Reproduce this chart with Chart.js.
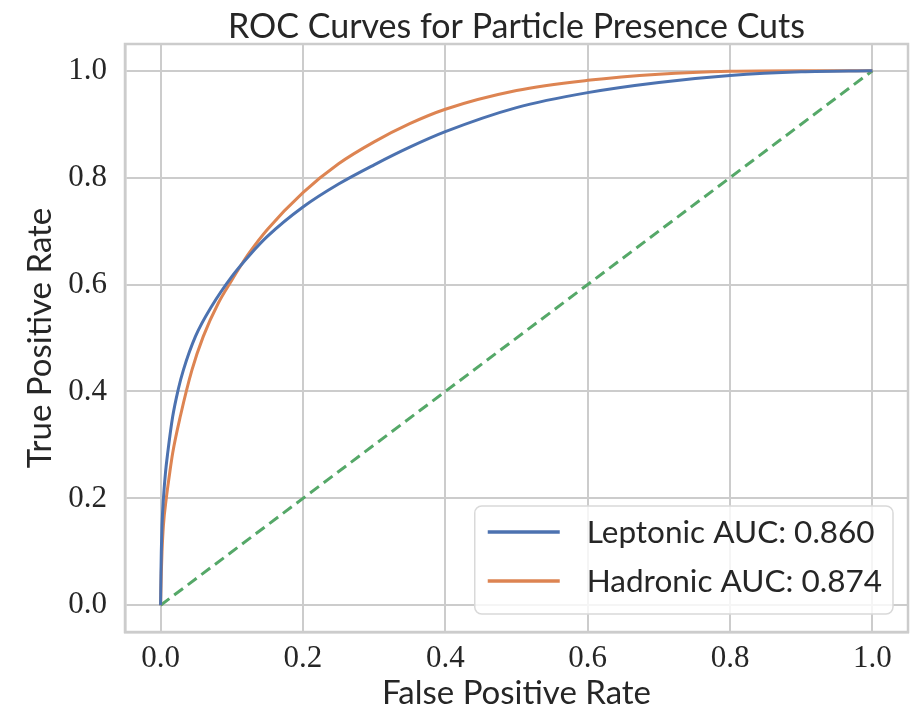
<!DOCTYPE html>
<html><head><meta charset="utf-8">
<script src="https://cdn.jsdelivr.net/npm/chart.js@4.4.1/dist/chart.umd.min.js"></script>
<style>html,body{margin:0;padding:0;background:#fff}#wrap{width:918px;height:715px;position:relative}</style>
</head><body><div id="wrap"><canvas id="c" width="918" height="715"></canvas></div>
<script>
const leptonicFPR = [0, 0.0005, 0.001, 0.002, 0.004, 0.007, 0.010, 0.017, 0.025, 0.032, 0.049, 0.072, 0.100, 0.125, 0.150, 0.200, 0.250, 0.300, 0.350, 0.400, 0.500, 0.600, 0.700, 0.800, 0.900, 1.000];
const leptonicTPR = [0, 0.06, 0.10, 0.15, 0.20, 0.25, 0.285, 0.353, 0.405, 0.44, 0.503, 0.560, 0.615, 0.655, 0.690, 0.745, 0.788, 0.824, 0.857, 0.886, 0.931, 0.959, 0.978, 0.991, 0.998, 1.000];
const hadronicFPR = [0, 0.001, 0.002, 0.004, 0.008, 0.012, 0.017, 0.028, 0.044, 0.060, 0.081, 0.100, 0.113, 0.125, 0.150, 0.200, 0.250, 0.300, 0.350, 0.400, 0.500, 0.600, 0.700, 0.800, 0.900, 1.000];
const hadronicTPR = [0, 0.06, 0.10, 0.15, 0.20, 0.24, 0.285, 0.355, 0.44, 0.503, 0.565, 0.608, 0.636, 0.660, 0.703, 0.772, 0.826, 0.867, 0.901, 0.928, 0.963, 0.982, 0.9935, 0.999, 1.000, 1.000];
const chanceFPR = [0, 1];
const chanceTPR = [0, 1];
const tickValues = [0, 0.2, 0.4, 0.6, 0.8, 1.0];
const seriesLabels = ['Leptonic AUC: 0.860', 'Hadronic AUC: 0.874'];
const titleText = 'ROC Curves for Particle Presence Cuts';
const xTitle = 'False Positive Rate';
const yTitle = 'True Positive Rate';

const SANS = 'Lato, "Open Sans", sans-serif';
const SERIF = '"Liberation Serif", "DejaVu Serif", serif';
const GRID = '#cccccc';
const TEXT = '#262626';

function pts(xs, ys) { return xs.map((x, i) => ({x: x, y: ys[i]})); }

const framePlugin = {
  id: 'frame',
  beforeDatasetsDraw(chart) {
    const {ctx, chartArea: a} = chart;
    ctx.save();
    ctx.strokeStyle = GRID;
    ctx.lineWidth = 2.5;
    ctx.strokeRect(a.left, a.top, a.right - a.left, a.bottom - a.top);
    ctx.restore();
  }
};

const titlePlugin = {
  id: 'areaTitle',
  afterDraw(chart) {
    const {ctx, chartArea: a} = chart;
    ctx.save();
    ctx.font = '34px ' + SANS;
    ctx.fillStyle = TEXT;
    ctx.textAlign = 'center';
    ctx.textBaseline = 'middle';
    ctx.fillText(titleText, (a.left + a.right) / 2, 27);
    ctx.restore();
  }
};

const legendPlugin = {
  id: 'boxLegend',
  afterDatasetsDraw(chart) {
    const {ctx, chartArea: a} = chart;
    const items = chart.data.datasets.filter(d => d.inLegend);
    ctx.save();
    ctx.font = '31.5px ' + SANS;
    const tw = Math.max(...items.map(d => ctx.measureText(d.label).width));
    const padL = 13, lineLen = 72, gap = 27, padR = 11, rowH = 49, padT = 26;
    const w = padL + lineLen + gap + tw + padR;
    const h = 108;
    const right = a.right - 15, bottom = a.bottom - 18;
    const x0 = right - w, y0 = bottom - h;
    ctx.beginPath();
    ctx.roundRect(x0, y0, w, h, 7);
    ctx.fillStyle = 'rgba(255,255,255,0.8)';
    ctx.fill();
    ctx.strokeStyle = '#d9d9d9';
    ctx.lineWidth = 1.5;
    ctx.stroke();
    items.forEach((d, i) => {
      const cy = y0 + padT + i * rowH;
      ctx.beginPath();
      ctx.strokeStyle = d.borderColor;
      ctx.lineWidth = 3.5;
      ctx.moveTo(x0 + padL, cy);
      ctx.lineTo(x0 + padL + lineLen, cy);
      ctx.stroke();
      ctx.fillStyle = TEXT;
      ctx.textBaseline = 'middle';
      ctx.textAlign = 'left';
      ctx.fillText(d.label, x0 + padL + lineLen + gap, cy + 1);
    });
    ctx.restore();
  }
};

const axisBase = {
  type: 'linear', min: -0.05, max: 1.05,
  afterBuildTicks: s => { s.ticks = tickValues.map(v => ({value: v})); },
  grid: { color: GRID, lineWidth: 2, drawTicks: false },
  border: { color: GRID, width: 2.5 },
};

new Chart(document.getElementById('c'), {
  type: 'scatter',
  data: {
    datasets: [
      { label: seriesLabels[0], data: pts(leptonicFPR, leptonicTPR), showLine: true, borderColor: '#4c72b0', borderWidth: 3, pointRadius: 0, cubicInterpolationMode: 'monotone', inLegend: true },
      { label: seriesLabels[1], data: pts(hadronicFPR, hadronicTPR), showLine: true, borderColor: '#dd8452', borderWidth: 3, pointRadius: 0, cubicInterpolationMode: 'monotone', inLegend: true },
      { label: 'chance', data: pts(chanceFPR, chanceTPR), showLine: true, borderColor: '#55a868', borderWidth: 3, borderDash: [11, 6], pointRadius: 0, inLegend: false }
    ]
  },
  options: {
    responsive: false, animation: false, devicePixelRatio: 1,
    layout: { padding: { left: 0, right: 10, top: 44, bottom: 0 } },
    plugins: {
      legend: { display: false },
      tooltip: { enabled: false },
      title: { display: false }
    },
    scales: {
      x: Object.assign({}, axisBase, {
        afterFit: s => { s.height = 83; },
        ticks: { color: TEXT, font: { family: SERIF, size: 31 }, padding: 8, maxRotation: 0, callback: v => v.toFixed(1) },
        title: { display: true, text: xTitle, color: TEXT, font: { family: SANS, size: 33 }, padding: { top: 0, bottom: 2 } }
      }),
      y: Object.assign({}, axisBase, {
        afterFit: s => { s.width = 125; },
        ticks: { color: TEXT, font: { family: SERIF, size: 31 }, padding: 18, callback: v => v.toFixed(1) },
        title: { display: true, text: yTitle, color: TEXT, font: { family: SANS, size: 33 }, padding: { top: 21, bottom: 0 } }
      })
    }
  },
  plugins: [framePlugin, legendPlugin, titlePlugin]
});
</script></body></html>
